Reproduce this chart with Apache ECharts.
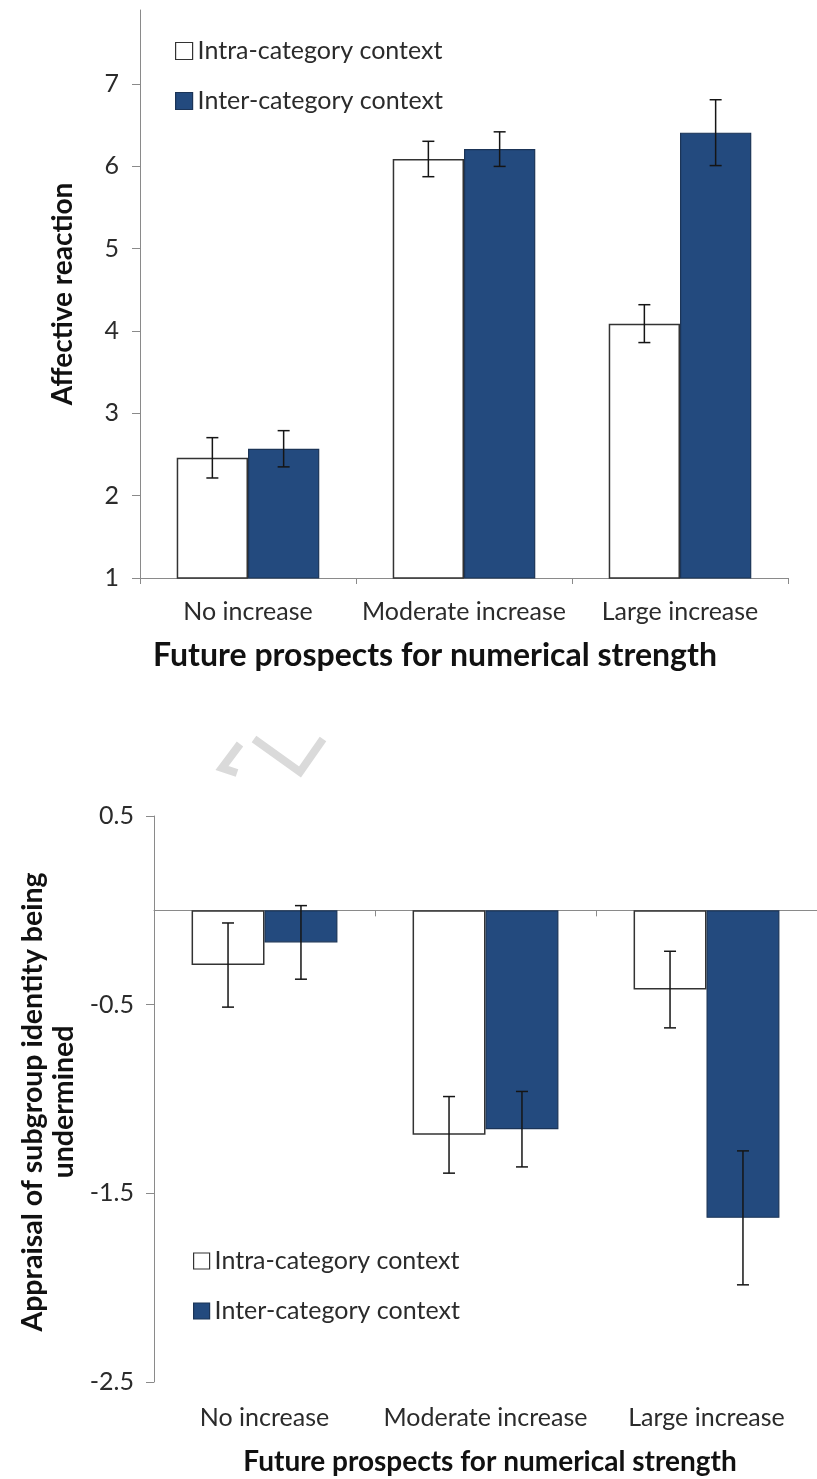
<!DOCTYPE html>
<html><head><meta charset="utf-8">
<script src="https://cdn.jsdelivr.net/npm/echarts@6/dist/echarts.min.js"></script>
<style>html,body{margin:0;padding:0;background:#fff}#c{width:817px;height:1479px}</style>
</head><body><div id="c"></div>
<script>
const categories = ['No increase', 'Moderate increase', 'Large increase'];
const seriesNames = ['Intra-category context', 'Inter-category context'];
// Top chart: Affective reaction
const affectIntra = [2.46, 6.09, 4.09];
const affectIntraErr = [0.245, 0.215, 0.23];
const affectInter = [2.57, 6.21, 6.41];
const affectInterErr = [0.22, 0.21, 0.40];
const affectTicks = [1, 2, 3, 4, 5, 6, 7];
// Bottom chart: Appraisal of subgroup identity being undermined
const apprIntra = [-0.29, -1.19, -0.42];
const apprIntraErr = [0.223, 0.203, 0.203];
const apprInter = [-0.17, -1.16, -1.63];
const apprInterErr = [0.195, 0.20, 0.355];
const apprTicks = [-2.5, -1.5, -0.5, 0.5];

const FONT = 'Lato';
const TXT = '#2b2b2b';
const AX = '#8a8a8a';
const BLUE = '#234a7e';
const GAP = 0.34;

function errSeries(means, errs, side, xIdx, yIdx) {
  return {
    type: 'custom', xAxisIndex: xIdx, yAxisIndex: yIdx, z: 10, silent: true,
    data: means.map((m, i) => [i, m - errs[i], m + errs[i]]),
    encode: { x: 0, y: [1, 2] },
    renderItem(params, api) {
      const i = api.value(0);
      const lo = api.coord([i, api.value(1)]);
      const hi = api.coord([i, api.value(2)]);
      const catW = api.size([1, 0])[0];
      const bw = catW * (1 - GAP) / 2;
      const x = lo[0] + side * bw / 2;
      const c = 6;
      const st = { stroke: '#151515', lineWidth: 1.5 };
      return { type: 'group', children: [
        { type: 'line', shape: { x1: x, y1: lo[1], x2: x, y2: hi[1] }, style: st },
        { type: 'line', shape: { x1: x - c, y1: lo[1], x2: x + c, y2: lo[1] }, style: st },
        { type: 'line', shape: { x1: x - c, y1: hi[1], x2: x + c, y2: hi[1] }, style: st }
      ]};
    }
  };
}

const intraStyle = { color: '#ffffff', borderColor: '#333333', borderWidth: 1.5 };
const interStyle = { color: BLUE, borderColor: '#1b3457', borderWidth: 1.2 };

const axisLabelStyle = { fontSize: 25, fontFamily: FONT, color: TXT };
const legendText = { fontSize: 25, fontFamily: FONT, color: TXT, lineHeight: 26 };

const chart = echarts.init(document.getElementById('c'), null, { renderer: 'canvas' });
chart.setOption({
  animation: false,
  backgroundColor: '#ffffff',
  grid: [
    { left: 140, top: 10, width: 648, height: 568 },
    { left: 154, top: 816, width: 675, height: 566 }
  ],
  legend: [
    { left: 170, top: 33, orient: 'vertical', icon: 'rect', itemWidth: 17, itemHeight: 17, itemGap: 24,
      itemStyle: { borderWidth: 1.2 },
      selectedMode: false, data: seriesNames, textStyle: legendText },
    { left: 188, top: 1243, orient: 'vertical', icon: 'rect', itemWidth: 16, itemHeight: 16, itemGap: 24,
      itemStyle: { borderWidth: 1.2 },
      selectedMode: false, data: seriesNames, textStyle: legendText }
  ],
  xAxis: [
    { type: 'category', gridIndex: 0, data: categories,
      axisLine: { lineStyle: { color: AX, width: 1 } },
      axisTick: { show: true, length: 6, lineStyle: { color: AX } },
      axisLabel: Object.assign({ margin: 21, interval: 0 }, axisLabelStyle) },
    { type: 'category', gridIndex: 1, data: categories, position: 'bottom',
      axisLine: { onZero: true, lineStyle: { color: AX, width: 1 } },
      axisTick: { show: true, length: 6, lineStyle: { color: AX } },
      axisLabel: { show: false } },
    { type: 'category', gridIndex: 1, data: categories, position: 'bottom',
      axisLine: { show: false, onZero: false },
      axisTick: { show: false },
      axisLabel: Object.assign({ margin: 23, interval: 0 }, axisLabelStyle) }
  ],
  yAxis: [
    { type: 'value', gridIndex: 0, min: 1, max: 7.9,
      axisLine: { show: true, lineStyle: { color: AX, width: 1 } },
      axisTick: { show: true, length: 8, customValues: affectTicks, lineStyle: { color: AX } },
      splitLine: { show: false },
      axisLabel: Object.assign({ margin: 21, customValues: affectTicks }, axisLabelStyle) },
    { type: 'value', gridIndex: 1, min: -2.5, max: 0.5,
      axisLine: { show: true, lineStyle: { color: AX, width: 1 } },
      axisTick: { show: true, length: 8, customValues: apprTicks, lineStyle: { color: AX } },
      splitLine: { show: false },
      axisLabel: Object.assign({ margin: 20, customValues: apprTicks }, axisLabelStyle) }
  ],
  series: [
    { type: 'bar', name: seriesNames[0], xAxisIndex: 0, yAxisIndex: 0, data: affectIntra,
      barGap: '0%', barCategoryGap: (GAP * 100) + '%', itemStyle: intraStyle, silent: true },
    { type: 'bar', name: seriesNames[1], xAxisIndex: 0, yAxisIndex: 0, data: affectInter,
      barGap: '0%', barCategoryGap: (GAP * 100) + '%', itemStyle: interStyle, silent: true },
    { type: 'bar', name: seriesNames[0], xAxisIndex: 1, yAxisIndex: 1, data: apprIntra,
      barGap: '0%', barCategoryGap: (GAP * 100) + '%', itemStyle: intraStyle, silent: true },
    { type: 'bar', name: seriesNames[1], xAxisIndex: 1, yAxisIndex: 1, data: apprInter,
      barGap: '0%', barCategoryGap: (GAP * 100) + '%', itemStyle: interStyle, silent: true },
    errSeries(affectIntra, affectIntraErr, -1, 0, 0),
    errSeries(affectInter, affectInterErr, 1, 0, 0),
    errSeries(apprIntra, apprIntraErr, -1, 1, 1),
    errSeries(apprInter, apprInterErr, 1, 1, 1)
  ],
  graphic: [
    { type: 'text', x: 63, y: 294, rotation: Math.PI / 2,
      style: { text: 'Affective reaction', x: 0, y: 0, align: 'center', verticalAlign: 'middle',
        font: 'bold 28px ' + FONT, fill: '#111' } },
    { type: 'text', x: 435, y: 656,
      style: { text: 'Future prospects for numerical strength', x: 0, y: 0, align: 'center', verticalAlign: 'middle',
        font: 'bold 32px ' + FONT, fill: '#111' } },
    { type: 'text', x: 48, y: 1102, rotation: Math.PI / 2,
      style: { text: 'Appraisal of subgroup identity being\nundermined', x: 0, y: 0, align: 'center', verticalAlign: 'middle',
        lineHeight: 31, font: 'bold 28.5px ' + FONT, fill: '#111' } },
    { type: 'text', x: 490, y: 1462,
      style: { text: 'Future prospects for numerical strength', x: 0, y: 0, align: 'center', verticalAlign: 'middle',
        font: 'bold 28px ' + FONT, fill: '#111' } },
    { type: 'polyline', silent: true, shape: { points: [[240, 744], [222, 768], [237, 773]] },
      style: { stroke: '#dadada', lineWidth: 8, fill: null } },
    { type: 'polyline', silent: true, shape: { points: [[254, 739], [300, 772], [323, 739]] },
      style: { stroke: '#dadada', lineWidth: 8, fill: null } }
  ]
});
</script></body></html>
